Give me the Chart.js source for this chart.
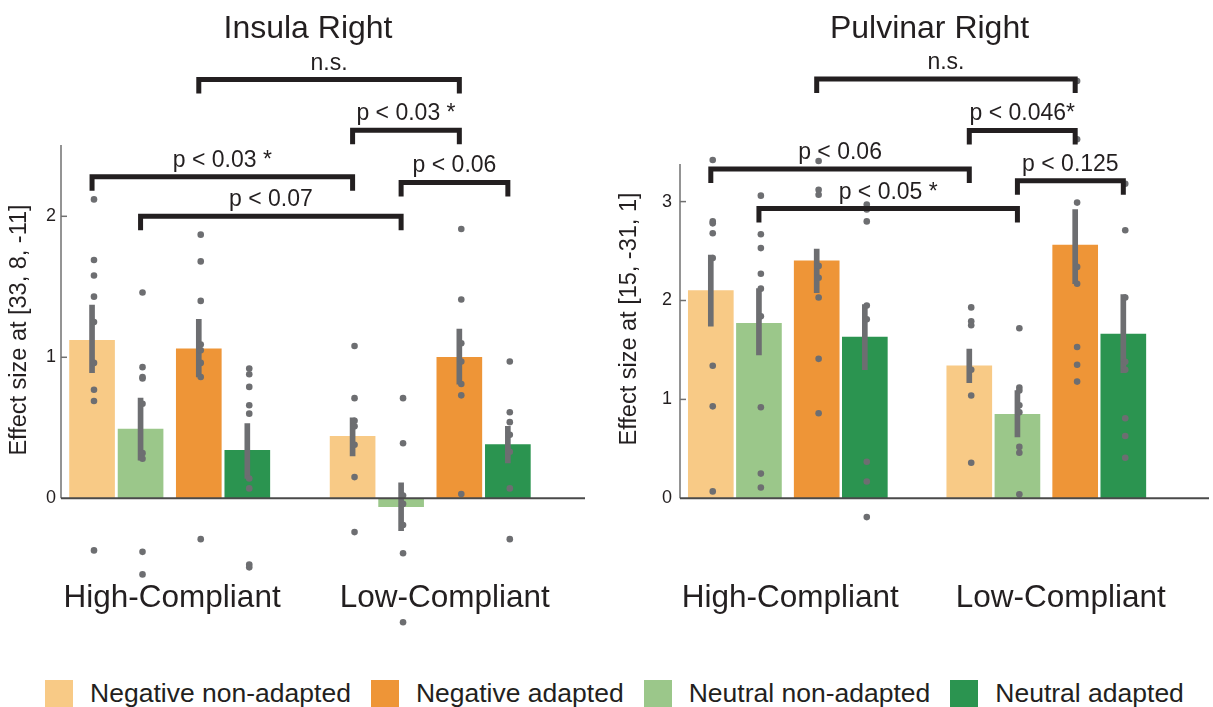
<!DOCTYPE html>
<html>
<head>
<meta charset="utf-8">
<script src="https://cdn.jsdelivr.net/npm/chart.js@4.4.1/dist/chart.umd.min.js"></script>
<style>
  html, body { margin: 0; padding: 0; background: #fff; }
  body { width: 1213px; height: 707px; position: relative; overflow: hidden;
         font-family: "Liberation Sans", Arial, Helvetica, sans-serif; }
  #insula { position: absolute; left: 0; top: 0; }
  #pulvinar { position: absolute; left: 600px; top: 0; }
  #legend { position: absolute; left: 8px; top: 678px; width: 1213px; display: flex;
            justify-content: center; gap: 20px; font-size: 26.5px; color: #231f20; }
  .item { display: flex; align-items: center; gap: 17px; }
  .sw { width: 28px; height: 28px; }
</style>
</head>
<body>
<canvas id="insula" width="600" height="650"></canvas>
<canvas id="pulvinar" width="613" height="650"></canvas>
<div id="legend"></div>
<script>
const GROUPS = ['High-Compliant', 'Low-Compliant'];
// bar order inside a group
const CONDITIONS = ['Negative non-adapted', 'Neutral non-adapted', 'Negative adapted', 'Neutral adapted'];
const COLORS = ['#f8ca86', '#9bc78a', '#ee9537', '#2b9450'];
const LEGEND_ORDER = [0, 2, 1, 3];

// x layout in bar-slot units
const SLOT = [0, 1, 2.2, 3.2];
const GROUP_START = [0, 5.37];
const GROUP_LABEL_X = [1.65, 7.27];

// Insula Right, indexed [condition][group]
const insulaMean = [[1.12, 0.44], [0.49, -0.06], [1.06, 1.00], [0.34, 0.38]];
const insulaLow  = [[0.89, 0.30], [0.27, -0.23], [0.86, 0.81], [0.14, 0.25]];
const insulaHigh = [[1.37, 0.57], [0.71, 0.11], [1.27, 1.20], [0.53, 0.51]];
const insulaDots = [
  [[2.12, 1.69, 1.58, 1.43, 1.25, 0.96, 0.77, 0.69, -0.37], [1.08, 0.71, 0.55, 0.51, 0.38, 0.15, -0.24]],
  [[1.46, 0.93, 0.86, 0.85, 0.67, 0.32, 0.28, -0.38, -0.54], [0.71, 0.39, 0.02, -0.04, -0.19, -0.39, -0.88]],
  [[1.87, 1.68, 1.40, 1.09, 1.05, 0.96, 0.86, -0.29], [1.91, 1.41, 1.10, 0.97, 0.81, 0.73, 0.03]],
  [[0.92, 0.88, 0.79, 0.66, 0.60, 0.14, 0.07, -0.47, -0.49], [0.97, 0.61, 0.54, 0.45, 0.33, 0.07, -0.29]]
];
const insulaTicks = [0, 1, 2];
// brackets: [group, condition] pairs
const insulaBrFrom = [[0, 2], [1, 0], [0, 0], [1, 1], [0, 1]];
const insulaBrTo   = [[1, 2], [1, 2], [1, 0], [1, 3], [1, 1]];
const insulaBrY    = [2.97, 2.61, 2.28, 2.24, 2.00];
const insulaBrText = ['n.s.', 'p < 0.03 *', 'p < 0.03 *', 'p < 0.06', 'p < 0.07'];

// Pulvinar Right
const pulvinarMean = [[2.10, 1.34], [1.77, 0.85], [2.40, 2.56], [1.63, 1.66]];
const pulvinarLow  = [[1.74, 1.17], [1.45, 0.62], [2.08, 2.17], [1.30, 1.27]];
const pulvinarHigh = [[2.46, 1.51], [2.12, 1.09], [2.52, 2.92], [1.96, 2.06]];
const pulvinarDots = [
  [[3.42, 2.80, 2.78, 2.68, 2.43, 1.34, 0.93, 0.07], [1.93, 1.79, 1.75, 1.30, 1.04, 0.36]],
  [[3.06, 2.67, 2.53, 2.27, 2.12, 1.84, 0.92, 0.25, 0.11], [1.72, 1.12, 1.09, 0.94, 0.87, 0.52, 0.46, 0.04]],
  [[3.41, 3.12, 3.07, 2.35, 2.23, 2.03, 1.41, 0.86], [4.22, 3.63, 2.99, 2.34, 2.17, 1.53, 1.35, 1.18]],
  [[2.97, 2.92, 2.80, 1.95, 1.81, 0.37, 0.17, -0.19], [3.18, 2.71, 2.03, 1.38, 1.30, 0.81, 0.63, 0.41]]
];
const pulvinarTicks = [0, 1, 2, 3];
const pulvinarBrFrom = [[0, 2], [1, 0], [0, 0], [1, 1], [0, 1]];
const pulvinarBrTo   = [[1, 2], [1, 2], [1, 0], [1, 3], [1, 1]];
const pulvinarBrY    = [4.24, 3.72, 3.33, 3.21, 2.93];
const pulvinarBrText = ['n.s.', 'p < 0.046*', 'p < 0.06', 'p < 0.125', 'p < 0.05 *'];

const FONT = '"Liberation Sans", Arial, Helvetica, sans-serif';
Chart.defaults.font.family = FONT;
Chart.defaults.color = '#231f20';

const INK = '#231f20';
const DOT = '#6d6e71';

function barX(g, c) {
  return GROUP_START[g] + SLOT[c];
}

function makePanel(id, p) {
  let datasets = [];
  CONDITIONS.forEach((name, c) => {
    datasets.push({
      type: 'bar',
      label: name,
      order: 3,
      grouped: false,
      data: GROUPS.map((_, g) => ({x: barX(g, c), y: p.mean[c][g]})),
      backgroundColor: COLORS[c],
      borderWidth: 0,
      barThickness: 45
    });
  });

  let err = [];
  let dots = [];
  CONDITIONS.forEach((_, c) => {
    GROUPS.forEach((_, g) => {
      err.push({x: barX(g, c), y: [p.low[c][g], p.high[c][g]]});
      p.dots[c][g].forEach(v => dots.push({x: barX(g, c) + 0.04, y: v}));
    });
  });
  datasets.push({
    type: 'bar', label: 'sem', order: 2, grouped: false,
    data: err, backgroundColor: DOT, borderWidth: 0, barThickness: 5
  });
  datasets.push({
    type: 'scatter', label: 'subjects', order: 1, clip: false,
    data: dots, pointRadius: 3.3, pointBackgroundColor: DOT, pointBorderWidth: 0
  });

  const deco = {
    id: 'deco',
    afterDatasetsDraw(chart) {
      const {ctx, chartArea} = chart;
      const x = chart.scales.x;
      const y = chart.scales.y;
      const ax = chartArea.left;
      const y0 = y.getPixelForValue(0);
      ctx.save();

      // y axis only from 0 up, ticks point inwards
      ctx.strokeStyle = '#707070';
      ctx.lineWidth = 1.5;
      ctx.beginPath();
      ctx.moveTo(ax, y0);
      ctx.lineTo(ax, y.getPixelForValue(p.axisTop));
      ctx.stroke();
      p.ticks.forEach(v => {
        if (v === 0) return;
        const py = y.getPixelForValue(v);
        ctx.beginPath();
        ctx.moveTo(ax, py);
        ctx.lineTo(ax + 6, py);
        ctx.stroke();
      });

      // zero line
      ctx.strokeStyle = '#4a4a4a';
      ctx.lineWidth = 2;
      ctx.beginPath();
      ctx.moveTo(ax, y0);
      ctx.lineTo(chartArea.right, y0);
      ctx.stroke();

      // significance brackets
      ctx.strokeStyle = INK;
      ctx.fillStyle = INK;
      ctx.lineWidth = 5;
      ctx.lineJoin = 'miter';
      ctx.lineCap = 'butt';
      ctx.font = '23px ' + FONT;
      ctx.textAlign = 'center';
      ctx.textBaseline = 'alphabetic';
      p.brFrom.forEach((f, i) => {
        const t = p.brTo[i];
        const x1 = x.getPixelForValue(barX(f[0], f[1]));
        const x2 = x.getPixelForValue(barX(t[0], t[1]));
        const yl = y.getPixelForValue(p.brY[i]);
        ctx.beginPath();
        ctx.moveTo(x1, yl + 14);
        ctx.lineTo(x1, yl);
        ctx.lineTo(x2, yl);
        ctx.lineTo(x2, yl + 14);
        ctx.stroke();
        ctx.fillText(p.brText[i], (x1 + x2) / 2, yl - 10);
      });

      // group names
      ctx.font = '31.5px ' + FONT;
      GROUPS.forEach((name, g) => {
        ctx.fillText(name, x.getPixelForValue(GROUP_LABEL_X[g]), y0 + 109);
      });

      // panel title
      ctx.font = '32px ' + FONT;
      ctx.textBaseline = 'middle';
      ctx.fillText(p.title, (chartArea.left + chartArea.right) / 2 - 15, 29);

      // y axis title
      ctx.font = '23.5px ' + FONT;
      ctx.translate(p.titleX, p.titleY);
      ctx.rotate(-Math.PI / 2);
      ctx.fillText(p.yTitle, 0, 0);
      ctx.restore();
    }
  };

  return new Chart(document.getElementById(id), {
    type: 'bar',
    data: {datasets: datasets},
    options: {
      responsive: false,
      animation: false,
      events: [],
      layout: {padding: {left: 0, right: p.padRight, top: 48.4, bottom: 25}},
      plugins: {
        legend: {display: false},
        tooltip: {enabled: false}
      },
      scales: {
        x: {
          type: 'linear',
          display: false,
          offset: false,
          min: -0.64,
          max: p.xMax
        },
        y: {
          min: p.yMin,
          max: p.yMax,
          grid: {display: false, drawTicks: false},
          border: {display: false},
          afterBuildTicks: s => { s.ticks = p.ticks.map(v => ({value: v})); },
          afterFit: s => { s.width = p.axisWidth; },
          ticks: {padding: p.tickPad, color: INK, font: {size: 18}}
        }
      }
    },
    plugins: [deco]
  });
}

makePanel('insula', {
  title: 'Insula Right',
  yTitle: 'Effect size at [33, 8, -11]',
  mean: insulaMean, low: insulaLow, high: insulaHigh, dots: insulaDots,
  ticks: insulaTicks, axisTop: 2.505,
  brFrom: insulaBrFrom, brTo: insulaBrTo, brY: insulaBrY, brText: insulaBrText,
  yMin: -0.899, yMax: 3.191, xMax: 10.16,
  axisWidth: 61, padRight: 15, tickPad: 5, titleX: 20, titleY: 330
});

makePanel('pulvinar', {
  title: 'Pulvinar Right',
  yTitle: 'Effect size at [15, -31, 1]',
  mean: pulvinarMean, low: pulvinarLow, high: pulvinarHigh, dots: pulvinarDots,
  ticks: pulvinarTicks, axisTop: 3.38,
  brFrom: pulvinarBrFrom, brTo: pulvinarBrTo, brY: pulvinarBrY, brText: pulvinarBrText,
  yMin: -1.281, yMax: 4.549, xMax: 10.35,
  axisWidth: 80, padRight: 0, tickPad: 8, titleX: 30, titleY: 319
});

// legend
const legend = document.getElementById('legend');
LEGEND_ORDER.forEach(c => {
  const item = document.createElement('div');
  item.className = 'item';
  const sw = document.createElement('span');
  sw.className = 'sw';
  sw.style.background = COLORS[c];
  const label = document.createElement('span');
  label.textContent = CONDITIONS[c];
  item.appendChild(sw);
  item.appendChild(label);
  legend.appendChild(item);
});
</script>
</body>
</html>
